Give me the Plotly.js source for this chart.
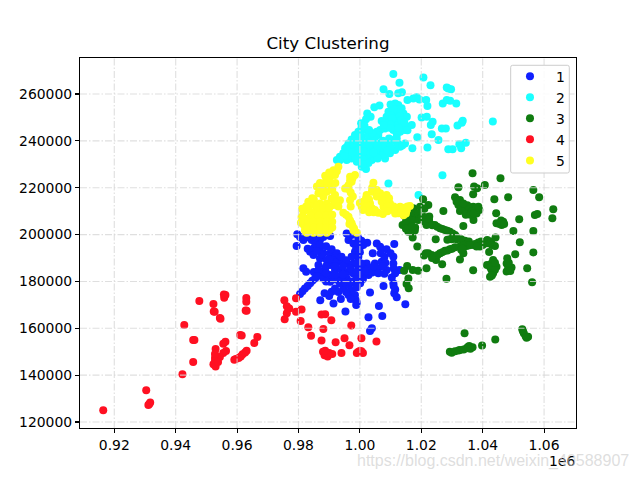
<!DOCTYPE html>
<html><head><meta charset="utf-8">
<script src="https://cdn.plot.ly/plotly-3.0.1.min.js"></script>
<style>html,body{margin:0;padding:0;background:#fff}</style></head>
<body><div id="chart" style="width:640px;height:480px"></div>
<script>
// values in thousands: [x, y]
const cluster1 = [[979.6,200.1],[979.4,195.1],[981.6,197.7],[984.3,197.7],[987,197.7],[980.5,199],[982.7,198.9],[984.9,199],[988.1,199],[990.3,199.4],[983.8,192.7],[984.9,194.1],[987,194.1],[984.9,191.3],[988.1,192],[990.3,192],[991.9,190.5],[987,189.8],[989.2,189.1],[993.5,188.4],[995.7,187.7],[997.9,187.7],[999.5,185.6],[981.6,185.6],[982.5,184.1],[980.5,174.6],[982.1,177],[983.8,179.2],[985.4,181.3],[987,183.4],[988.7,185.6],[990.3,187],[986.5,187],[991.9,184.9],[994.1,184.9],[996.3,184.1],[997.9,183.4],[1000.1,182.7],[995.7,200.5],[997.3,199.8],[999.5,198.4],[996.3,197.7],[997.9,196.2],[1000.1,194.8],[998.4,192.7],[999.5,190.5],[997.3,190.5],[1002.4,196.5],[1001.1,195.5],[1005.5,196.2],[1006.6,194.8],[1008.7,193.7],[1011.2,196],[1004.2,192],[1006.8,192],[1010.9,190.5],[1010.9,187.7],[1007.1,188.4],[1004.9,187.7],[1002.2,187.7],[1001.1,185.6],[1003.3,185.6],[1006,185.6],[1008.7,184.9],[1012.9,184.9],[1002.8,182.7],[1010.4,181.7],[1010.9,179.2],[1011.5,176.6],[1007.7,178],[1003.3,175.3],[1012,173.2],[1014.8,170.3],[1006.2,169.5],[1007.3,165.2],[1002.8,164.7],[1003.9,160],[1003.3,158.8],[995.3,167.2],[987.1,172],[991.4,170.6],[993.8,172.5],[990,173.8],[990.8,175.6],[991.9,177],[994.6,177],[993.5,179.2],[990.3,179.9],[996.3,178.5],[996.3,174.2],[997.3,176.3],[998.4,174.2],[998.8,169.9],[998.4,179.2],[1000.1,179.2],[993.5,182],[995.7,181.3],[990.3,182.7],[988.1,181.3],
[985.5,196],[987,195.7],[989,195],[990.8,193.7],[992.5,192],[994,190.5],[995.5,189],[992,188],[990,189.5],[987.5,191.5],[983,194],[986,193],[989,186.5],[985,184],[986.5,184.8],[992,186.5],[994.5,186.5],[997,185.5],[999,184],[1001,183.8],[1002,184.5],[1004,183.8],[1006,183.5],[1008,183.3],[1004.5,186.5],[1000.5,187.7],[999,188],[1000,192.5],[998.8,194.3],[1000.5,197.4],[999.5,196],[1008,190.5],[1010,192],[1008.3,188],[1007.5,186.5],[1011,185.5],[1011.5,183.5],[1011,178],[1011.2,175],[989,180],[992,180.8],[995,179.5],[997,180],[998.8,181],[1001,181],[994.5,183],[992,183],[989,183.6],[984.5,180.3],[986,182.2],[981.3,175.8],[983,178],[988.5,175],[993,175.5],[995.5,175.5],[999,177.5],[998.7,172],[997,172.5],[999,171]];
const cluster2 = [[1010.9,268.5],[1020.7,267.1],[1012.9,264.8],[1023,263.7],[1007.7,262],[1009.6,260],[1012.5,260.3],[1013.7,260.8],[1028.3,262.8],[1028.8,262.3],[1029.7,262],[1015.5,257.4],[1017.4,258.1],[1018.5,258.6],[1019.4,257.7],[1021.6,257.4],[1022,254.9],[1027,256],[1028.3,257.4],[1029.4,257.1],[1031.4,256],[1004.7,254.3],[1006.4,255.1],[1002.4,251.7],[1003.5,250.3],[1002,249.2],[1000.4,247.5],[1020.1,250],[1021.8,250.3],[1023.7,248.2],[1023.1,246.8],[1033.5,248.6],[1033.2,247.7],[1031.8,246.6],[1026.7,245.3],[1028,245.3],[1023.4,242.8],[1018.7,241.5],[1025.6,240.4],[1034.5,239.2],[1032.4,238.6],[1033,236.8],[1028.8,236.4],[1030.2,236.4],[1022,237.2],[1017.1,236.8],[1026.9,225.3],[1009.3,221.8],[1019.1,216.9],[1043.3,248.3],[1011.5,256],[1012.5,255.3],[1010.4,254.6],[1013.6,253.9],[1009.3,252.4],[1012,252.4],[1014.2,251.7],[1015.3,250.3],[1008.7,250.3],[1011.5,249.6],[1009.8,248.2],[1012.5,248.2],[1008.7,247.5],[1011.5,246.8],[1013.6,246.8],[1015.3,246],[1016.9,246.8],[1007.1,248.5],[1006.6,244.6],[1008.2,245.3],[1005.5,243.9],[1010.9,244.6],[1013.1,243.9],[1014.7,244.6],[1012,242.5],[992.5,231.8],[993.5,233.2],[994.6,234.7],[995.2,236.8],[996.3,238.9],[997.3,240.6],[998.4,242.5],[999.5,243.9],[995.7,231.8],[997.3,232.5],[999,231.1],[1000.6,229],[1002,228],[996.3,235.4],[997.9,236.8],[999.5,238.2],[1001.1,239.6],[1002.8,240.4],[1004.4,241.1],[1006,242.5],[997.9,233.9],[1000.1,234.7],[1002.2,236.1],[1004.4,237.5],[1006.6,238.9],[1008.7,239.6],[1010.9,240.4],[1000.6,231.8],[1002.8,232.5],[1004.9,234],[1006.6,234.7],[1008.2,232.5],[1009.8,234.7],[1011.5,236.1],[1013.1,237.5],[1014.7,238.9],[1003.9,231.8],[1001.1,237.5],[1003.3,236.1],[1005.5,236.1],[1007.7,236.8],[1000.6,241.8],[1001.7,244.6],[1002.8,242.5],[999.5,234],[998.4,238.9],[1000.1,236.8],
[994,232.5],[996,233.5],[998.5,233],[1001,233.3],[1003,234.3],[995.8,237.5],[997.8,238.5],[999,240],[1000.3,240.5],[1001.5,238.5],[1003,238.5],[1005.2,239],[1005,241.5],[1007.5,240],[1009.5,241],[1008,238],[1012.2,239],[1010,237.5],[1012.5,238.5],[1013.8,238],[1007.5,234],[1002.8,230.5],[1001,230],[1005.8,232.5],[999,236],[1001.3,235.5],[1003.5,234.5],[1004.5,235],[1005.8,237.8],[998.5,241.5],[1000,243],[997.5,235],[995,233.5],[993.3,231.5],[1004,243.3],[1003,244.6],[1012,241],[1009,236],
[1010,255.5],[1012.8,253.5],[1011,253.5],[1010,251],[1013,250.5],[1010.5,249.5],[1013.5,248.8],[1010,247],[1014.5,247.8],[1012.7,245.5],[1010,245.5],[1007.8,246.8],[1015.5,244.5],[1000.5,245.5],[1001.5,246.5]];
const cluster3 = [[1036.7,226.2],[1045.8,224],[1032.1,220.2],[1037.2,220.5],[1038.2,219.8],[1040.7,221.2],[1036.9,217.2],[1056.5,219],[1058.4,215.9],[1043.8,215.1],[1048.3,215.9],[1020.6,215.1],[1022.3,212.6],[1027.2,210.1],[1031,215.9],[1032.6,214.8],[1032.1,212.6],[1033.7,211.9],[1035.3,211.2],[1036.9,211.9],[1038.6,211.9],[1032.6,210.1],[1034.2,209.8],[1035.9,209.8],[1037.5,209.8],[1038.9,210.5],[1044.4,209.1],[1063,210.8],[1057,208.4],[1057.8,208.8],[1062.7,207],[1037,206.2],[1051.9,206.5],[1044.5,204.8],[1046.7,205.5],[1046.2,204.1],[1033.7,203.7],[1050,201.5],[1056.5,201.5],[1022.6,207.7],[1016.3,208.4],[1017.9,207.7],[1019,206.2],[1016.3,205.5],[1013.9,204.1],[1016.3,204.1],[1015.8,201.2],[1017.9,201.7],[1017.2,198.8],[1017.4,211.2],[1019.6,211.9],[1021.2,205.5],[1022.8,204.8],[1024.4,204.1],[1026.1,202.7],[1027.7,202],[1029.3,201.2],[1031,199.8],[1021.7,204.1],[1029.9,198],[1031.5,198],[1034.2,197.4],[1024.7,198],[1044.2,198.8],[1041.5,197.7],[1038.6,196.6],[1036.9,195.6],[1034.8,195.1],[1039.1,194.9],[1041.3,196.3],[1044,195.1],[1052.1,196.7],[1042.1,192.6],[1032.6,194.9],[1031,194.6],[1029.3,193.7],[1027.7,193.1],[1026.1,192],[1024.4,190.6],[1022.3,192],[1020.9,191.1],[1023.4,191.3],[1033.7,192],[1032.6,189.4],[1024.8,189.2],[1026.8,187.3],[1018.7,194.9],[1056.5,192.4],[1050.6,191.6],[1048,189.9],[1047.8,187.7],[1049.4,186],[1047.8,184.2],[1048.3,186.3],[1054.5,185.6],[1043.4,189.2],[1041.4,187],[1044.5,186.3],[1042.9,184.9],[1042.4,182],[1043.4,183.5],[1036.9,184.8],[1028.2,181.1],[1056.1,179.6],[1021.7,185.6],[1019,184.6],[1017.2,184.9],[1015.4,186.6],[1014.4,184.6],[1015.8,181.3],[1015.2,178.9],[1015.9,177.1],[1034.1,157.9],[1052.9,159.6],[1053.4,157.9],[1054.3,156],[1054.8,156.4],[1044.1,155.2],[1039.8,152.7],[1029.3,150],[1029.9,149.6],[1032.1,150.5],[1032.6,150.7],[1034.8,151.5],[1035.6,152.4],[1036.7,151.9],
[1014.5,208],[1015.5,207],[1017,206],[1015,205.5],[1017.5,209.5],[1019,209],[1021,211],[1015,202.5],[1018,203],[1017,203.5],[1020,207],[1021,207.5],[1022.5,206.5],[1023.6,204],[1025.2,203.3],[1026.9,202.4],[1028.5,201.6],[1030.2,200.5],[1031.5,199],[1033,198],[1028.5,197.8],[1035.5,197],[1037.5,196],[1039.5,197],[1042.7,197],[1043,195.5],[1042.3,196.3],[1040,195.5],[1038,194.9],[1035.7,195.4],[1033.5,195.3],[1030,194],[1028.5,193.2],[1026.9,192.5],[1025.3,191.3],[1023.5,190],[1033,193.5],[1033.5,194],[1021.5,192],[1033,211],[1034.5,211],[1036.3,211],[1037.8,211.3],[1035,212.5],[1033.7,213.3],[1031.5,214],[1036.5,210],[1038,209],[1034.5,208.5],[1036,208.5],[1037,209],[1045.5,204.5],[1046,206],[1047,204.5],[1042.8,187.5],[1043.5,187],[1042.5,186],[1044,185],[1043,182.5],[1044,188],[1048.5,188],[1049,184.5],[1054,156.6],[1053.1,158.8],[1031,150.2],[1033.8,151],[1035.2,152],[1036,151.3]];
const cluster4 = [[916.4,125],[930.4,133.6],[931.1,127.3],[931.7,128.3],[931.4,127.7],[942.2,140.4],[945.7,145.6],[945.7,155],[946.1,155],[942.8,161.4],[947.7,171.6],[952.3,170.4],[952.4,167.2],[952.7,167.1],[954.4,164.4],[954.6,164.1],[955.7,174.4],[955.8,173],[956.2,174.2],[963,172.9],[963,171.3],[962.8,167.6],[963.1,167.5],[961,157.1],[961.5,156.9],[966.6,156.3],[965.6,153.7],[963.1,150.4],[962.6,149.7],[961.8,148.9],[961.2,148],[960.5,147.3],[959.1,146.6],[959.6,146.9],[956.2,154.3],[955.5,153.4],[953,151.2],[956.4,150.3],[955.5,149.4],[954.4,147.7],[953.5,146.9],[952.8,147.3],[952.8,145.9],[952.3,144.7],[953,143.7],[975.4,172],[976.7,168.5],[976.2,166.4],[975.5,163.9],[979.2,172.8],[979.2,167.1],[981,168],[980.7,163.1],[983.2,160.4],[984.1,156.8],[987.5,165.9],[988.7,166],[990.7,163.4],[988.1,159.7],[987.5,154.8],[992.1,154],[995,155.7],[996.6,152.8],[997.2,161.2],[1000.5,155.7],[1005.4,154.4],[1000,150.3],[988,150],[988.5,148.5],[989.5,148],[990,149.5],[991,149],[999,149.5],[1001,149.5],[994,149.5],[976.2,169.4],[977,168.4],[953.8,145.6],[952.8,149],[999.5,150],[1000.5,150.2],[989,149.3],[988.7,150.4]];
const cluster5 = [[993,229],[991.4,227.5],[991.9,225.4],[990.3,224.7],[988.7,225.1],[990.3,221.9],[988.7,220.7],[987,219.7],[989.2,218.3],[986.5,217.6],[988.1,216.2],[990.8,215.4],[993.5,214.7],[991.9,216.9],[983.2,214],[984.9,212.6],[987,213.3],[989.2,213.3],[991.4,212.6],[981.6,209.7],[983.2,210.5],[985.4,209.7],[987.6,209.7],[989.7,209.7],[982.1,206.9],[983.8,206.9],[985.9,206.9],[988.1,206.9],[990.3,206.9],[981.8,204],[983.8,204],[985.9,204],[988.1,204],[990.3,204],[982.1,201.9],[983.8,201.9],[985.9,201.9],[988.1,201.9],[990.1,201.9],[982.7,200.8],[984.9,200.8],[987,200.8],[989.2,200.8],[998.4,225.4],[996.8,224.7],[997.3,222.6],[996.3,221.1],[995.2,219.7],[997.7,216.2],[994.6,209.3],[996.3,207.6],[997.3,204.8],[998.1,202.6],[996.8,214.7],[996.6,204.5],[997.9,201.9],[999,200.8],[1004.4,222.1],[1003.9,218.3],[1002.2,216.9],[1001.1,214],[1000.6,211.9],[1004.9,218.3],[1006.6,217.6],[1008.7,216.9],[1003.3,213.3],[1003.9,211.2],[1006,209.3],[1004.9,210.5],[1007.7,211.9],[1007.1,214],[1009.8,213.3],[1010.9,210.5],[1012.5,209.1],[1014.2,208.3],[1015.3,210.5],[1016.3,212.2],[1013.1,211.9],[1008.7,214.7],[1005.5,216.2],[1001.7,211.2],[1002.8,210.5],
[992,222],[991,219],[989.5,221],[987.8,218.5],[985,215],[986,212],[988,211.5],[990,211.5],[992,214],[993,212],[984,208],[986.5,208],[989,208],[991,208.5],[982.5,212],[982.8,205.5],[984.8,205.5],[987,205.5],[989.2,205.5],[991,205.5],[983,203],[985,203],[987,203],[989,203],[991,203],[981,207.5],[980.8,205],[981.2,211],[986,220.5],[984.5,215.5],[992.5,227],[990,226.5],[989,223],[987,222],
[997.6,224],[996.8,223],[995.7,220],[997,218],[996.3,219.5],[997,212],[995.5,208.5],[996.8,206],[997.6,203.7],
[1003,215],[1005.5,219],[1004,220],[1007.5,216],[1009.5,215.5],[1002,213],[1002,215.5],[1000,213.5],[1011,212],[1012,211],[1011.5,209],[1013.5,209.5],[1015,209],[1009,212],[1004.5,209.5],[1007.5,208.8],[1009,210],[1003,209.5],[1001,210.5],[1014.5,211.5],[1015.5,212]];

const seriesData = [cluster1, cluster2, cluster3, cluster4, cluster5];
const seriesNames = ['1','2','3','4','5'];
const seriesColors = ['#1020ff','#1affff','#107c10','#ff1022','#ffff22'];
const xTicks = [920000,940000,960000,980000,1000000,1020000,1040000,1060000];
const xTickLabels = ['0.92','0.94','0.96','0.98','1.00','1.02','1.04','1.06'];
const yTicks = [120000,140000,160000,180000,200000,220000,240000,260000];
const yTickLabels = ['120000','140000','160000','180000','200000','220000','240000','260000'];

const font = 'DejaVu Sans, sans-serif';
const traces = seriesData.map((pts,i)=>({
  type:'scatter', mode:'markers', name:seriesNames[i],
  x:pts.map(p=>p[0]*1000), y:pts.map(p=>p[1]*1000),
  marker:{size:8,color:seriesColors[i],opacity:1,line:{width:0}},
  cliponaxis:true
}));
const gridLine = {color:'rgba(215,215,215,0.8)',width:1.1,dash:'7px,2px,1.5px,2px'};
const shapes = [
  ...xTicks.map(v=>({type:'line',layer:'above',xref:'x',yref:'paper',x0:v,x1:v,y0:0,y1:1,line:gridLine})),
  ...yTicks.map(v=>({type:'line',layer:'above',xref:'paper',yref:'y',x0:0,x1:1,y0:v,y1:v,line:gridLine})),
  {type:'path',layer:'above',xref:'paper',yref:'paper',
   path:'M 0.8723,0.6892 L 0.9825,0.6892 Q 0.9865,0.6892 0.9865,0.6946 L 0.9865,0.9749 Q 0.9865,0.9803 0.9825,0.9803 L 0.8723,0.9803 Q 0.8683,0.9803 0.8683,0.9749 L 0.8683,0.6946 Q 0.8683,0.6892 0.8723,0.6892 Z',
   fillcolor:'rgba(255,255,255,0.85)',line:{color:'#ccc',width:1}}
];
const axis = {showgrid:false,zeroline:false,showline:true,mirror:true,linecolor:'#000',linewidth:1.1,
  ticks:'outside',ticklen:4,tickwidth:1.1,tickcolor:'#000',tickmode:'array',
  tickfont:{family:font,size:13.9,color:'#000'}};
const layout = {
  width:640,height:480,paper_bgcolor:'#fff',plot_bgcolor:'#fff',
  margin:{l:80,r:64,t:58,b:52},
  title:{text:'City Clustering',font:{family:font,size:16.7,color:'#000'},x:0.5125,xanchor:'center',y:0.91,yanchor:'middle'},
  xaxis:{...axis,range:[908830,1070400],tickvals:xTicks,ticktext:xTickLabels},
  yaxis:{...axis,range:[117440,275370],tickvals:yTicks,ticktext:yTickLabels},
  legend:{x:0.8548,xanchor:'left',y:0.993,yanchor:'top',bgcolor:'rgba(0,0,0,0)',borderwidth:0,
    font:{family:font,size:13.9,color:'#000'},itemwidth:42,traceorder:'normal'},
  shapes,
  annotations:[
    {xref:'paper',yref:'paper',x:1.003,y:-0.09,xanchor:'right',yanchor:'middle',showarrow:false,text:'1e6',font:{family:font,size:13.9,color:'#000'}},
    {xref:'paper',yref:'paper',x:1.1109,y:-0.09,xanchor:'right',yanchor:'middle',showarrow:false,text:'https://blog.csdn.net/weixin_40588907',font:{family:'Liberation Sans, sans-serif',size:16,color:'rgba(200,200,200,0.6)'}}
  ]
};
Plotly.newPlot('chart',traces,layout,{displayModeBar:false,staticPlot:true});
</script></body></html>
